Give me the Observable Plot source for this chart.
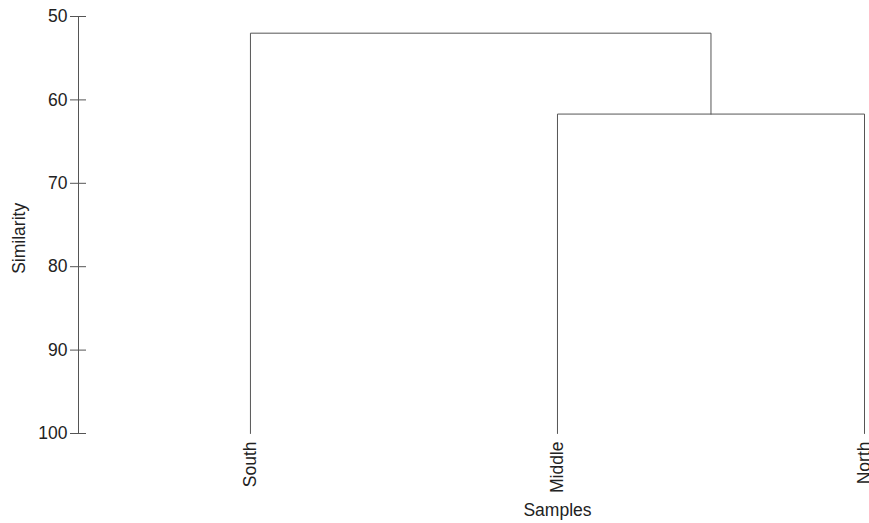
<!DOCTYPE html>
<html>
<head>
<meta charset="utf-8">
<script src="https://cdn.jsdelivr.net/npm/d3@7"></script>
<script src="https://cdn.jsdelivr.net/npm/@observablehq/plot@0.6"></script>
<style>
  html, body { margin: 0; padding: 0; background: #fff; }
</style>
</head>
<body>
<div id="chart"></div>
<script>
// ---- data ----
const leaves = ["South", "Middle", "North"];
const leafSimilarity = 100;
const mergeLeft = ["Middle", "South"];
const mergeRight = ["North", "Middle+North"];
const mergeSimilarity = [61.7, 52.0];
const yTicks = [50, 60, 70, 80, 90, 100];
const xLabel = "Samples";
const yLabel = "Similarity";
const yLabelAt = 76.6;

// ---- build dendrogram layout from the arrays ----
const nodes = new Map();
leaves.forEach((name, i) => nodes.set(name, {x: i, h: leafSimilarity}));
const linkPoints = [];
mergeLeft.forEach((l, i) => {
  const r = mergeRight[i];
  const L = nodes.get(l), R = nodes.get(r), h = mergeSimilarity[i];
  nodes.set(l + "+" + r, {x: (L.x + R.x) / 2, h});
  linkPoints.push(
    {id: i, x: L.x, y: L.h},
    {id: i, x: L.x, y: h},
    {id: i, x: R.x, y: h},
    {id: i, x: R.x, y: R.h}
  );
});
const leafData = leaves.map((name, i) => ({name, x: i, y: leafSimilarity}));

// x domain: leave room on the left for the similarity axis
const xAxisPad = 0.56;
const xDomain = [-xAxisPad, leaves.length - 1];
const lineColor = "#555";
const fs = 17.5;

const chart = Plot.plot({
  width: 869,
  height: 523,
  marginLeft: 78,
  marginRight: 5,
  marginTop: 16,
  marginBottom: 90,
  style: {fontSize: fs + "px", fontFamily: "Arial, 'Liberation Sans', sans-serif", color: "#222", background: "#fff"},
  x: {domain: xDomain, axis: null},
  y: {domain: [50, 100], reverse: true, axis: null},
  marks: [
    Plot.ruleX([xDomain[0]], {stroke: lineColor}),
    Plot.axisY({ticks: yTicks, tickSize: 8, tickPadding: 3, stroke: lineColor, label: null, fontSize: fs}),
    Plot.axisY({ticks: yTicks, tickSize: -8, text: null, stroke: lineColor, label: null}),
    Plot.line(linkPoints, {x: "x", y: "y", z: "id", stroke: lineColor, strokeWidth: 1}),
    Plot.text(leafData, {x: "x", y: "y", text: "name", rotate: -90, textAnchor: "end", dy: 8, fontSize: fs, fill: "#222"}),
    Plot.text([xLabel], {x: leaves.indexOf("Middle"), frameAnchor: "bottom", dy: 82, fontSize: fs, fill: "#222"}),
    Plot.text([yLabel], {y: yLabelAt, frameAnchor: "left", textAnchor: "middle", lineAnchor: "middle", dx: -59, rotate: -90, fontSize: fs, fill: "#222"})
  ]
});
document.getElementById("chart").appendChild(chart);
</script>
</body>
</html>
